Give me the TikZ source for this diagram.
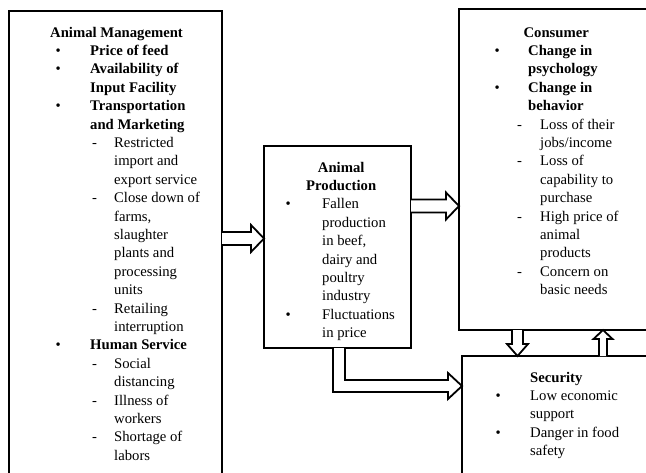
\documentclass[tikz,border=0pt]{standalone}
\usepackage{fontspec}
\setmainfont{Liberation Serif}
\usetikzlibrary{calc}
\tikzset{
  panel/.style={draw, line width=2pt, anchor=north west, inner sep=0pt, outer sep=0pt},
  listtext/.style={anchor=north west, align=left, inner sep=0pt, font=\fontsize{14.7}{18.4}\selectfont},
  hollow/.style={draw, fill=white, line width=1.8pt, line join=miter},
}
\newcommand{\bul}[1]{\makebox[#1][l]{\textbullet}}
\newcommand{\dsh}[1]{\makebox[#1][l]{-}}
\begin{document}
\begin{tikzpicture}[x=1pt, y=-1pt]
  \useasboundingbox (0,0) rectangle (646,472);
  \clip (0,0) rectangle (646,472);
  % boxes
  \node[panel, minimum width=213pt, minimum height=480pt] (mgmt) at (9,11) {};
  \node[panel, minimum width=147pt, minimum height=202pt] (prod) at (264,146) {};
  \node[panel, minimum width=200pt, minimum height=321pt] (cons) at (459,9) {};
  \node[panel, minimum width=200pt, minimum height=140pt] (secu) at (462,356) {};
  % texts
  \node[listtext] (mgmttext) at (55.5,24) {\strut\hspace*{-5.5pt}\textbf{Animal Management}\\
    \bul{34.5pt}\textbf{Price of feed}\\
    \bul{34.5pt}\textbf{Availability of}\\
    \hspace*{34.5pt}\textbf{Input Facility}\\
    \bul{34.5pt}\textbf{Transportation}\\
    \hspace*{34.5pt}\textbf{and Marketing}\\
    \hspace*{36.5pt}\dsh{22pt}Restricted\\
    \hspace*{58.5pt}import and\\
    \hspace*{58.5pt}export service\\
    \hspace*{36.5pt}\dsh{22pt}Close down of\\
    \hspace*{58.5pt}farms,\\
    \hspace*{58.5pt}slaughter\\
    \hspace*{58.5pt}plants and\\
    \hspace*{58.5pt}processing\\
    \hspace*{58.5pt}units\\
    \hspace*{36.5pt}\dsh{22pt}Retailing\\
    \hspace*{58.5pt}interruption\\
    \bul{34.5pt}\textbf{Human Service}\\
    \hspace*{36.5pt}\dsh{22pt}Social\\
    \hspace*{58.5pt}distancing\\
    \hspace*{36.5pt}\dsh{22pt}Illness of\\
    \hspace*{58.5pt}workers\\
    \hspace*{36.5pt}\dsh{22pt}Shortage of\\
    \hspace*{58.5pt}labors};
  \node[listtext] (prodtext) at (285.5,159) {\strut\makebox[111pt][c]{\textbf{Animal}}\\
    \makebox[111pt][c]{\textbf{Production}}\\
    \bul{36.5pt}Fallen\\
    \hspace*{36.5pt}production\\
    \hspace*{36.5pt}in beef,\\
    \hspace*{36.5pt}dairy and\\
    \hspace*{36.5pt}poultry\\
    \hspace*{36.5pt}industry\\
    \bul{36.5pt}Fluctuations\\
    \hspace*{36.5pt}in price};
  \node[listtext] (constext) at (494.5,24) {\strut\makebox[123pt][c]{\textbf{Consumer}}\\
    \bul{33.5pt}\textbf{Change in}\\
    \hspace*{33.5pt}\textbf{psychology}\\
    \bul{33.5pt}\textbf{Change in}\\
    \hspace*{33.5pt}\textbf{behavior}\\
    \hspace*{22.5pt}\dsh{23pt}Loss of their\\
    \hspace*{45.5pt}jobs/income\\
    \hspace*{22.5pt}\dsh{23pt}Loss of\\
    \hspace*{45.5pt}capability to\\
    \hspace*{45.5pt}purchase\\
    \hspace*{22.5pt}\dsh{23pt}High price of\\
    \hspace*{45.5pt}animal\\
    \hspace*{45.5pt}products\\
    \hspace*{22.5pt}\dsh{23pt}Concern on\\
    \hspace*{45.5pt}basic needs};
  \node[listtext] (secutext) at (495.5,369) {\strut\hspace*{34.5pt}\textbf{Security}\\
    \bul{34.5pt}Low economic\\
    \hspace*{34.5pt}support\\
    \bul{34.5pt}Danger in food\\
    \hspace*{34.5pt}safety};
  % arrows
  \coordinate (a1) at ($(prod.north west)+(0,92.5)$);
  \coordinate (a1s) at (mgmt.east |- a1);
  \draw[hollow] ($(a1s)+(0,-6.5)$) -- ($(a1)+(-13,-6.5)$) -- ($(a1)+(-13,-13.5)$) -- (a1)
    -- ($(a1)+(-13,13.5)$) -- ($(a1)+(-13,6.5)$) -- ($(a1s)+(0,6.5)$);
  \coordinate (a2) at ($(cons.north west)+(0,197)$);
  \coordinate (a2s) at (prod.east |- a2);
  \draw[hollow] ($(a2s)+(0,-6.5)$) -- ($(a2)+(-13,-6.5)$) -- ($(a2)+(-13,-13.5)$) -- (a2)
    -- ($(a2)+(-13,13.5)$) -- ($(a2)+(-13,6.5)$) -- ($(a2s)+(0,6.5)$);
  \coordinate (a3) at ($(secu.north west)+(55.5,0)$);
  \coordinate (a3s) at (a3 |- cons.south);
  \draw[hollow] ($(a3s)+(-5.5,0)$) -- ($(a3)+(-5.5,-12)$) -- ($(a3)+(-10.5,-12)$) -- (a3)
    -- ($(a3)+(10.5,-12)$) -- ($(a3)+(5.5,-12)$) -- ($(a3s)+(5.5,0)$);
  \coordinate (a4) at ($(cons.south west)+(144,0)$);
  \coordinate (a4s) at (a4 |- secu.north);
  \draw[hollow] ($(a4s)+(-4,0)$) -- ($(a4)+(-4,9)$) -- ($(a4)+(-9.5,9)$) -- (a4)
    -- ($(a4)+(9.5,9)$) -- ($(a4)+(4,9)$) -- ($(a4s)+(4,0)$);
  \coordinate (a5) at ($(secu.north west)+(0,30)$);
  \coordinate (a5s) at ($(prod.south west)+(75,0)$);
  \coordinate (a5c) at (a5s |- a5);
  \draw[hollow] ($(a5s)+(-6,0)$) -- ($(a5c)+(-6,6)$) -- ($(a5)+(-14,6)$) -- ($(a5)+(-14,13)$) -- (a5)
    -- ($(a5)+(-14,-13)$) -- ($(a5)+(-14,-6)$) -- ($(a5c)+(6,-6)$) -- ($(a5s)+(6,0)$);
\end{tikzpicture}
\end{document}
